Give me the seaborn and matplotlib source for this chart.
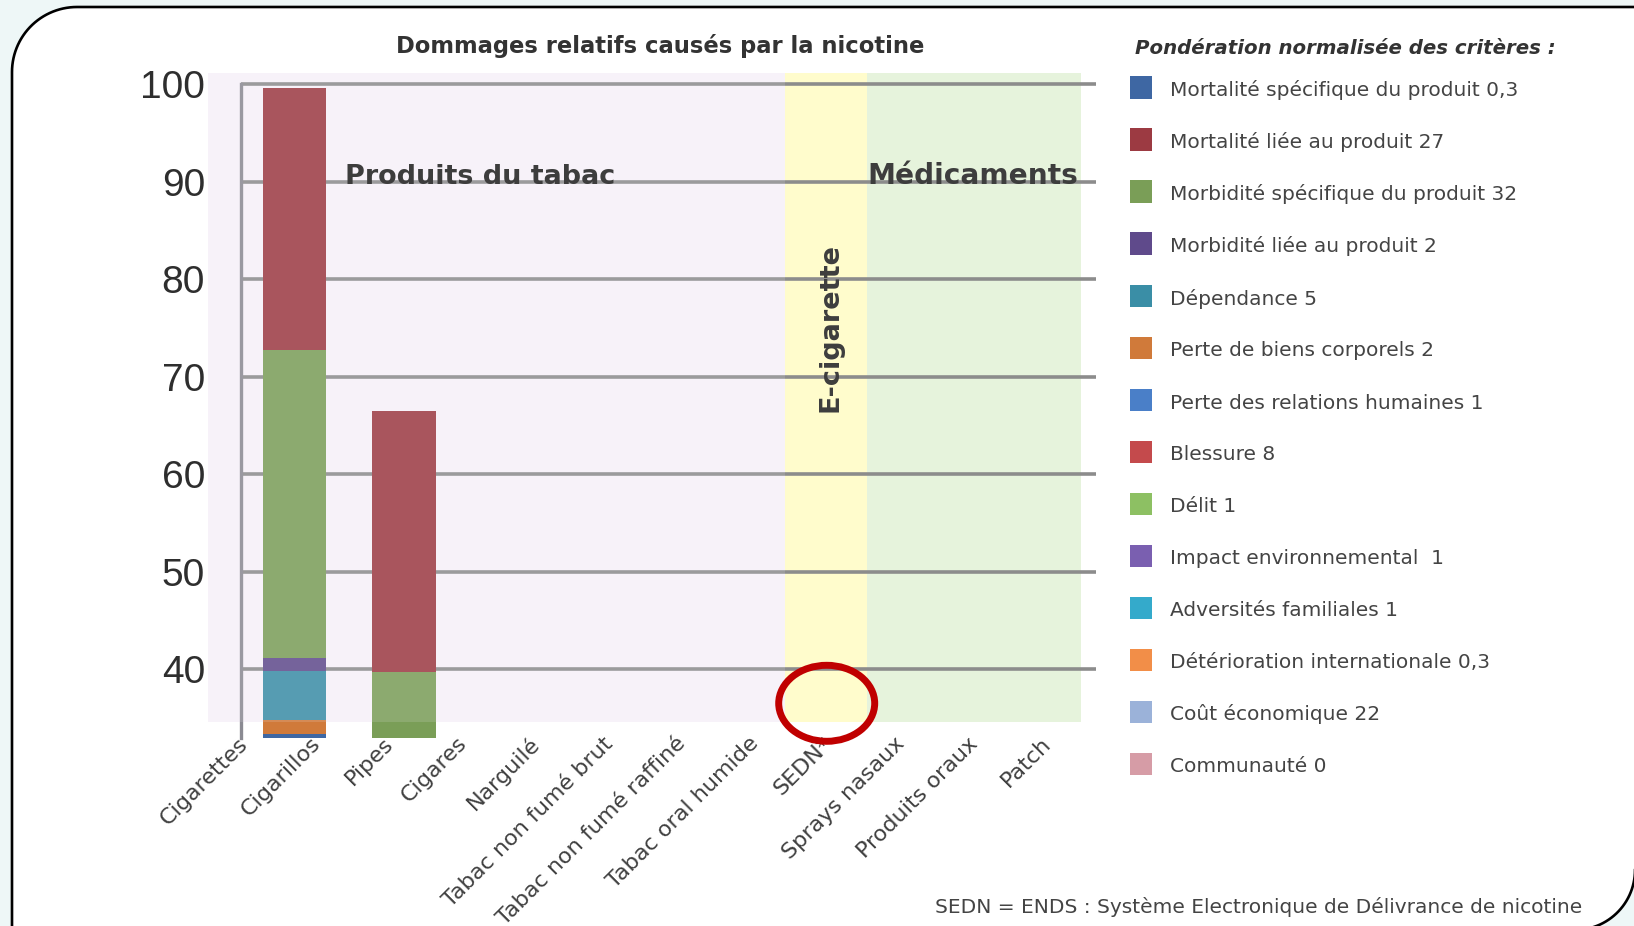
import numpy as np
import pandas as pd
import seaborn as sns
import matplotlib.pyplot as plt
from matplotlib.patches import Polygon, Rectangle, Ellipse

# x categories (tick labels)
products = ["Cigarettes", "Cigarillos", "Pipes", "Cigares", "Narguilé",
            "Tabac non fumé brut", "Tabac non fumé raffiné", "Tabac oral humide",
            "SEDN*", "Sprays nasaux", "Produits oraux", "Patch"]

# criteria and their normalised weights (legend)
criteria = ["Mortalité spécifique du produit", "Mortalité liée au produit",
            "Morbidité spécifique du produit", "Morbidité liée au produit",
            "Dépendance", "Perte de biens corporels", "Perte des relations humaines",
            "Blessure", "Délit", "Impact environnemental ", "Adversités familiales",
            "Détérioration internationale", "Coût économique", "Communauté"]
weights = [0.3, 27, 32, 2, 5, 2, 1, 8, 1, 1, 1, 0.3, 22, 0]
criteria_colors = ["#3e67a3", "#9c3a42", "#7a9e57", "#5f4a8b", "#3a8ea6", "#d07a3a",
                   "#4a7fc8", "#c44a4c", "#8dc063", "#7a5fb0", "#34aacb", "#f28e48",
                   "#9bb2d9", "#d69ca6"]

# visible stacked segments, bottom -> top
stack_order = ["Mortalité spécifique du produit", "Perte de biens corporels", "Dépendance",
               "Morbidité liée au produit", "Morbidité spécifique du produit",
               "Mortalité liée au produit"]
cigarettes = [33.37, 1.43, 5.07, 1.32, 31.54, 26.83]
cigarillos = [0, 0, 0, 0, 39.76, 26.76]

# layout
W, H = 1634, 926
bar_x = [0.69, 2.19]
lavender, yellow, green = "#f7f2f9", "#fffccc", "#e6f3dc"
grid_grey = "#8c8c8c"

sns.set_theme(style="white")
plt.rcParams['font.family'] = ['DejaVu Sans']

fig = plt.figure(figsize=(W / 100, H / 100), dpi=100)
fig.patch.set_facecolor("#eef7f7")


def fx(x):
    return x / W


def fy(y):
    return 1 - y / H


# slide shape: rounded top-left and bottom-right corners
a1 = np.radians(np.linspace(180, 270, 30))
a2 = np.radians(np.linspace(0, 90, 30))
pts = [(12, 930)]
pts += [(77 + 65 * np.cos(a), 72 + 65 * np.sin(a)) for a in a1]
pts += [(1700, 7), (1700, 860)]
pts += [(1575 + 60 * np.cos(a), 870 + 60 * np.sin(a)) for a in a2]
pts = [(fx(x), fy(y)) for x, y in pts]
fig.patches.append(Polygon(pts, closed=True, transform=fig.transFigure, facecolor="white",
                           edgecolor="black", lw=1.9, zorder=-5))

ax = fig.add_axes([fx(241), fy(737.6), fx(1096) - fx(241), fy(80.1) - fy(737.6)])
ax.set_facecolor("none")

# background bands
ax.add_patch(Rectangle((-0.493, 34.63), 7.397 + 0.493, 101.1 - 34.63, color=lavender,
                       clip_on=False, zorder=0.1, lw=0))
ax.add_patch(Rectangle((7.397, 34.63), 8.525 - 7.397, 101.1 - 34.63, color=yellow,
                       clip_on=False, zorder=0.1, lw=0))
ax.add_patch(Rectangle((8.525, 34.63), 11.46 - 8.525, 101.1 - 34.63, color=green,
                       clip_on=False, zorder=0.1, lw=0))

# stacked bars: draw cumulative totals, largest first
seg = pd.DataFrame({"Cigarettes": cigarettes, "Cigarillos": cigarillos}, index=stack_order)
cum = seg.cumsum()
color_of = dict(zip(criteria, criteria_colors))
for crit in reversed(stack_order):
    sns.barplot(x=bar_x, y=cum.loc[crit].values, native_scale=True, orient="x",
                width=0.58, color=color_of[crit], saturation=1, errorbar=None,
                linewidth=0, ax=ax)

# translucent tint of the lavender band over the bars
ax.add_patch(Rectangle((-0.493, 34.63), 7.397 + 0.493, 101.1 - 34.63, color=lavender,
                       alpha=0.15, clip_on=False, zorder=3, lw=0))

ax.set_xlim(-0.045, 11.66)
ax.set_ylim(33.0, 100.4)
ax.set_axisbelow(True)
ax.yaxis.grid(True, color=grid_grey, lw=2.6)
ax.xaxis.grid(False)
ax.set_yticks([40, 50, 60, 70, 80, 90, 100])
for s in ["top", "right", "bottom"]:
    ax.spines[s].set_visible(False)
ax.spines["left"].set_color("#8a8a92")
ax.spines["left"].set_linewidth(2.4)
ax.spines["left"].set_bounds(33.0, 100)
ax.tick_params(axis="y", length=12.5, width=2.6, color=grid_grey, pad=13.5,
               labelsize=28, labelcolor="#2e2e2e")
for t in ax.get_yticklabels():
    t.set_fontfamily("Liberation Sans")
ax.set_xlabel("")
ax.set_ylabel("")

renderer = fig.canvas.get_renderer()


def fitted(s, target, **kw):
    t = fig.text(0, 0, s, fontsize=20, **kw)
    w = t.get_window_extent(renderer=renderer).width
    t.remove()
    return 20 * target / w


xsize = fitted("Tabac non fumé raffiné", 257)
ax.set_xticks(range(len(products)))
ax.set_xticklabels(products, rotation=45, ha="right", va="center", rotation_mode="anchor",
                   fontsize=xsize, color="#404040")
ax.tick_params(axis="x", length=0, pad=2)

# titles and annotations
fig.text(fx(660.5), fy(53), "Dommages relatifs causés par la nicotine",
         fontsize=fitted("Dommages relatifs causés par la nicotine", 529, fontweight="bold"),
         fontweight="bold", color="#333333", ha="center", va="baseline")
fig.text(fx(345), fy(184), "Produits du tabac",
         fontsize=fitted("Produits du tabac", 270, fontweight="bold"),
         fontweight="bold", color="#3d3d3d", ha="left", va="baseline")
fig.text(fx(867), fy(184), "Médicaments",
         fontsize=fitted("Médicaments", 210, fontweight="bold"),
         fontweight="bold", color="#3d3d3d", ha="left", va="baseline")
fig.text(fx(837), fy(327.5), "E-cigarette",
         fontsize=fitted("E-cigarette", 169, fontweight="bold"),
         fontweight="bold", color="#3d3d3d", ha="center", va="baseline",
         rotation=90, rotation_mode="anchor")

# highlight circle
fig.patches.append(Ellipse((fx(826.7), fy(703.3)), 96 / W, 76 / H, transform=fig.transFigure,
                           fill=False, edgecolor="#c00000", lw=5, zorder=6))

# legend
fig.text(fx(1135), fy(54), "Pondération normalisée des critères :",
         fontsize=fitted("Pondération normalisée des critères :", 420,
                         fontweight="bold", fontstyle="italic"),
         fontweight="bold", fontstyle="italic", color="#333333", ha="left", va="baseline")
labels = [f"{c} {w:g}".replace(".", ",") for c, w in zip(criteria, weights)]
lsize = fitted(labels[0], 347)
for i, (lab, col) in enumerate(zip(labels, criteria_colors)):
    yc = 87.5 + 52.0 * i
    fig.patches.append(Rectangle((fx(1130), fy(yc + 11)), 22 / W, 22 / H,
                                 transform=fig.transFigure, color=col, lw=0, zorder=5))
    fig.text(fx(1170), fy(yc + 9), lab, fontsize=lsize, color="#444444",
             ha="left", va="baseline")

foot = "SEDN = ENDS : Système Electronique de Délivrance de nicotine"
fig.text(fx(1582), fy(913), foot, fontsize=fitted(foot, 647), color="#444444",
         ha="right", va="baseline")

fig.savefig("out.png", dpi=100)
